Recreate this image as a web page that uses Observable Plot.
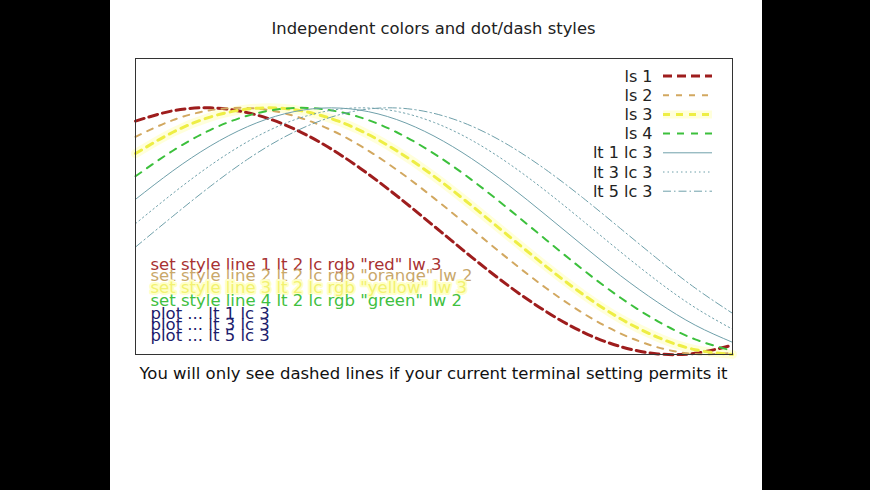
<!DOCTYPE html>
<html><head><meta charset="utf-8">
<script src="https://cdn.jsdelivr.net/npm/d3@7"></script>
<script src="https://cdn.jsdelivr.net/npm/@observablehq/plot@0.6"></script>
<style>
html,body{margin:0;padding:0;background:#000;width:870px;height:490px;overflow:hidden;}
#panel{position:absolute;left:110px;top:0;width:652px;height:490px;background:#fff;font-family:"DejaVu Sans",sans-serif;}
#title{height:44px;box-sizing:border-box;padding-top:19px;line-height:20px;font-size:16.4px;text-align:center;color:#222;padding-right:5px;}
#caption{line-height:20px;font-size:16.5px;text-align:center;color:#111;padding-right:5px;}
#chart svg{display:block;}
</style></head>
<body><div id="panel"><div id="title">Independent colors and dot/dash styles</div><div id="chart"></div><div id="caption">You will only see dashed lines if your current terminal setting permits it</div></div>
<script>
const xs = [0,0.25,0.5,0.75,1,1.25,1.5,1.75,2,2.25,2.5,2.75,3,3.25,3.5,3.75,4];
const ls1 = [0.892,0.976,1.000,0.961,0.863,0.711,0.515,0.287,0.041,-0.208,-0.444,-0.651,-0.820,-0.936,-0.995,-0.990,-0.924];
const ls2 = [0.765,0.900,0.980,0.999,0.955,0.853,0.697,0.498,0.268,0.021,-0.227,-0.461,-0.666,-0.830,-0.942,-0.996,-0.988];
const ls3 = [0.629,0.802,0.925,0.990,0.994,0.936,0.820,0.652,0.445,0.209,-0.039,-0.285,-0.514,-0.710,-0.861,-0.961,-0.999];
const ls4 = [0.445,0.652,0.820,0.936,0.994,0.990,0.925,0.802,0.629,0.418,0.180,-0.069,-0.314,-0.540,-0.731,-0.877,-0.970];
const lt1 = [0.258,0.489,0.690,0.847,0.952,0.998,0.982,0.905,0.771,0.590,0.372,0.130,-0.119,-0.361,-0.578,-0.762,-0.901];
const lt3 = [0.061,0.306,0.532,0.725,0.873,0.966,1.000,0.971,0.882,0.739,0.549,0.325,0.081,-0.168,-0.407,-0.620,-0.795];
const lt5 = [-0.129,0.121,0.362,0.582,0.765,0.900,0.980,0.999,0.955,0.853,0.697,0.498,0.268,0.021,-0.227,-0.461,-0.666];

const seriesNames = ["ls 1","ls 2","ls 3","ls 4","lt 1 lc 3","lt 3 lc 3","lt 5 lc 3"];
const seriesValues = [ls1,ls2,ls3,ls4,lt1,lt3,lt5];
const seriesColors = ["#9e1d1d","#d2a860","#eeee44","#3cc03c","#6fa0aa","#6fa0aa","#6fa0aa"];
const seriesWidths = [3,2,3,2,1,1,1];
const seriesDash = ["9,5","6,7","7,6","7,7",null,"1.5,3","8,3,1.5,3"];

const notes = [
  'set style line 1 lt 2 lc rgb "red" lw 3',
  'set style line 2 lt 2 lc rgb "orange" lw 2',
  'set style line 3 lt 2 lc rgb "yellow" lw 3',
  'set style line 4 lt 2 lc rgb "green" lw 2',
  'plot ... lt 1 lc 3',
  'plot ... lt 3 lc 3',
  'plot ... lt 5 lc 3'
];
const noteColors = ["#a83232","#c9a86a","#f2f270","#40c040","#1c1c6c","#1c1c6c","#1c1c6c"];
const noteOffsets = [206,217,229,242,255,266,277];

const rows = seriesNames.map((name,i) => xs.map((x,j) => ({series:name, x, y: seriesValues[i][j]})));

const marks = [];
// yellow halo
marks.push(Plot.line(rows[2], {x:"x", y:"y", curve:"natural", stroke:"#ffffb8", strokeWidth:9, strokeOpacity:0.5}));
rows.forEach((r,i) => {
  marks.push(Plot.line(r, {x:"x", y:"y", curve:"natural", stroke:seriesColors[i], strokeWidth:seriesWidths[i], strokeDasharray:seriesDash[i] || undefined}));
});
notes.forEach((t,i) => {
  marks.push(Plot.text([t], {text:d=>d, frameAnchor:"top-left", textAnchor:"start", lineAnchor:"middle", dx:15, dy:noteOffsets[i], fill:noteColors[i], fontSize:16.5, fontFamily:"DejaVu Sans",
    stroke: i===2 ? "#ffffc8" : undefined, strokeWidth: i===2 ? 4 : undefined}));
});
// legend labels
seriesNames.forEach((n,i) => {
  marks.push(Plot.text([n], {text:d=>d, frameAnchor:"top-right", textAnchor:"end", lineAnchor:"middle", dx:-80, dy:18 + i*19.2, fill:"#222", fontSize:16, fontFamily:"DejaVu Sans"}));
});
marks.push(Plot.frame({stroke:"#333", strokeWidth:1}));

const chart = Plot.plot({
  width:652, height:320,
  marginLeft:25, marginRight:30, marginTop:14, marginBottom:10,
  x:{domain:[0,4], axis:null},
  y:{domain:[-1,1.4], axis:null},
  style:{fontFamily:"DejaVu Sans", background:"#fff"},
  marks
});
document.getElementById("chart").appendChild(chart);

// legend samples
const svg = d3.select(chart);
const g = svg.append("g");
seriesNames.forEach((n,i) => {
  const y = 58 + 18 + i*19.2 - 44;
  if (i===2) g.append("line").attr("x1",553).attr("x2",602).attr("y1",y).attr("y2",y).attr("stroke","#ffffb8").attr("stroke-width",8).attr("stroke-opacity",0.5);
  g.append("line").attr("x1",553).attr("x2",602).attr("y1",y).attr("y2",y)
    .attr("stroke",seriesColors[i]).attr("stroke-width",seriesWidths[i])
    .attr("stroke-dasharray",seriesDash[i]);
});
</script></body></html>
